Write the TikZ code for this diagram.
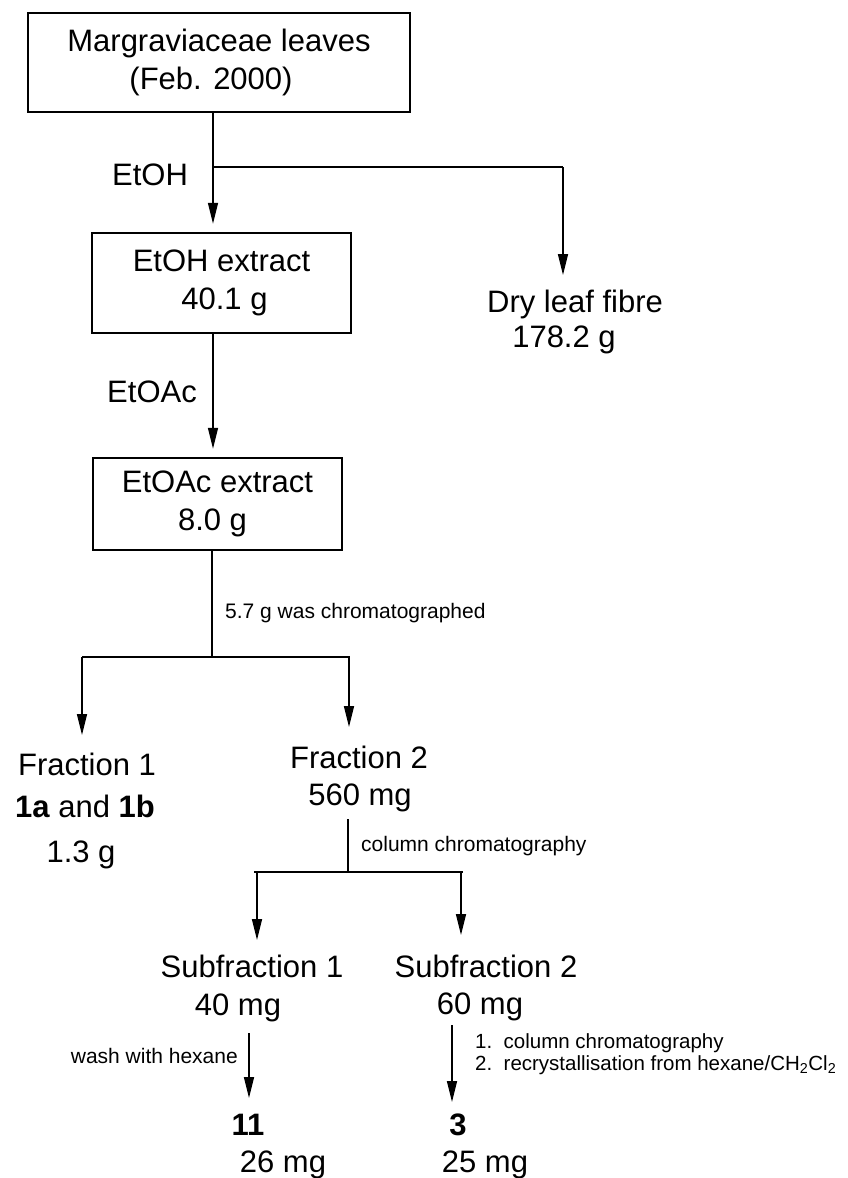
\documentclass[tikz,border=0pt]{standalone}
\usepackage{fontspec}
\setmainfont{Liberation Sans}
\usetikzlibrary{arrows.meta}
\begin{document}
\begin{tikzpicture}[x=1pt,y=-1pt,
  big/.style={font=\fontsize{31}{38}\selectfont, inner sep=0pt},
  small/.style={font=\fontsize{21}{25}\selectfont, inner sep=0pt},
  steptext/.style={font=\fontsize{20.5}{25}\selectfont, inner sep=0pt},
  box/.style={draw, line width=2.4pt, inner sep=0pt, align=center,
              font=\fontsize{31}{38}\selectfont},
  link/.style={line width=1.4pt},
  arr/.style={link, -{Triangle[length=21pt,width=10pt]}}]
\fill[white] (0,0) rectangle (847,1178);
\useasboundingbox (0,0) rectangle (847,1178);

% boxed stages
\node[box, minimum width=382, minimum height=99] (leaves) at (219,62.5)
  {Margraviaceae leaves\\\hspace*{-16pt}(Feb. 2000)};
\node[box, minimum width=259, minimum height=100] (etohx) at (221.5,283)
  {EtOH extract\\\hspace*{6pt}40.1 g};
\node[box, minimum width=249, minimum height=92] (etoacx) at (217.5,504)
  {EtOAc extract\\\hspace*{-10pt}8.0 g};

% free text
\node[big, anchor=base] (etoh) at (150,185) {EtOH};
\node[big, anchor=base] (fibre) at (575,312) {Dry leaf fibre};
\node[big, anchor=base] (fibrew) at (564,347) {178.2 g};
\node[big, anchor=base] (etoac) at (152,402) {EtOAc};
\node[small, anchor=base west] (chrom) at (225,618) {5.7 g was chromatographed};
\node[big, anchor=base] (frac1) at (87,775) {Fraction 1};
\node[big, anchor=base] (frac1c) at (85,817) {\textbf{1a} and \textbf{1b}};
\node[big, anchor=base] (frac1w) at (81,862) {1.3 g};
\node[big, anchor=base] (frac2) at (359,768) {Fraction 2};
\node[big, anchor=base] (frac2w) at (360,805) {560 mg};
\node[small, anchor=base west] (colchrom) at (361,851) {column chromatography};
\node[big, anchor=base] (sub1) at (252,977) {Subfraction 1};
\node[big, anchor=base] (sub1w) at (238,1015) {40 mg};
\node[big, anchor=base] (sub2) at (486,977) {Subfraction 2};
\node[big, anchor=base] (sub2w) at (480,1014) {60 mg};
\node[small, anchor=base east] (wash) at (238,1063) {wash with hexane};
\node[steptext, anchor=base west] (step1) at (475,1048) {1.\ \ column chromatography};
\node[steptext, anchor=base west] (step2) at (475,1070)
  {2.\ \ recrystallisation from hexane/CH\textsubscript{2}Cl\textsubscript{2}};
\node[big, anchor=base] (c11) at (248,1135) {\textbf{11}};
\node[big, anchor=base] (c11w) at (283,1172) {26 mg};
\node[big, anchor=base] (c3) at (458,1135) {\textbf{3}};
\node[big, anchor=base] (c3w) at (485,1172) {25 mg};

% branch points and arrow ends
\coordinate (j1) at (213,167);
\coordinate (j1r) at (563,167);
\coordinate (fibretip) at (563,275);
\coordinate (j2) at (212,657);
\coordinate (j2l) at (82,657);
\coordinate (j2r) at (350,657);
\coordinate (f1tip) at (82,735);
\coordinate (f2tip) at (349,727);
\coordinate (j3top) at (348,819);
\coordinate (j3) at (348,872);
\coordinate (j3l) at (254,872);
\coordinate (j3r) at (463,872);
\coordinate (s1top) at (257,872);
\coordinate (s1tip) at (257,940);
\coordinate (s2top) at (461,872);
\coordinate (s2tip) at (461,935);
\coordinate (w1top) at (249,1033);
\coordinate (w1tip) at (249,1098);
\coordinate (w2top) at (452,1025);
\coordinate (w2tip) at (452,1102);

% connectors
\draw[arr, shorten >=8pt] (leaves.south -| j1) -- (etohx.north -| j1);
\draw[link] (j1) -- (j1r);
\draw[arr] (j1r) -- (fibretip);
\draw[arr, shorten >=8pt] (etohx.south -| j1) -- (etoacx.north -| j1);
\draw[link] (etoacx.south -| j2) -- (j2);
\draw[link] (j2l) -- (j2r);
\draw[arr] (j2l) -- (f1tip);
\draw[arr] (f2tip |- j2) -- (f2tip);
\draw[link] (j3top) -- (j3);
\draw[link] (j3l) -- (j3r);
\draw[arr] (s1top) -- (s1tip);
\draw[arr] (s2top) -- (s2tip);
\draw[arr] (w1top) -- (w1tip);
\draw[arr] (w2top) -- (w2tip);
\end{tikzpicture}
\end{document}
